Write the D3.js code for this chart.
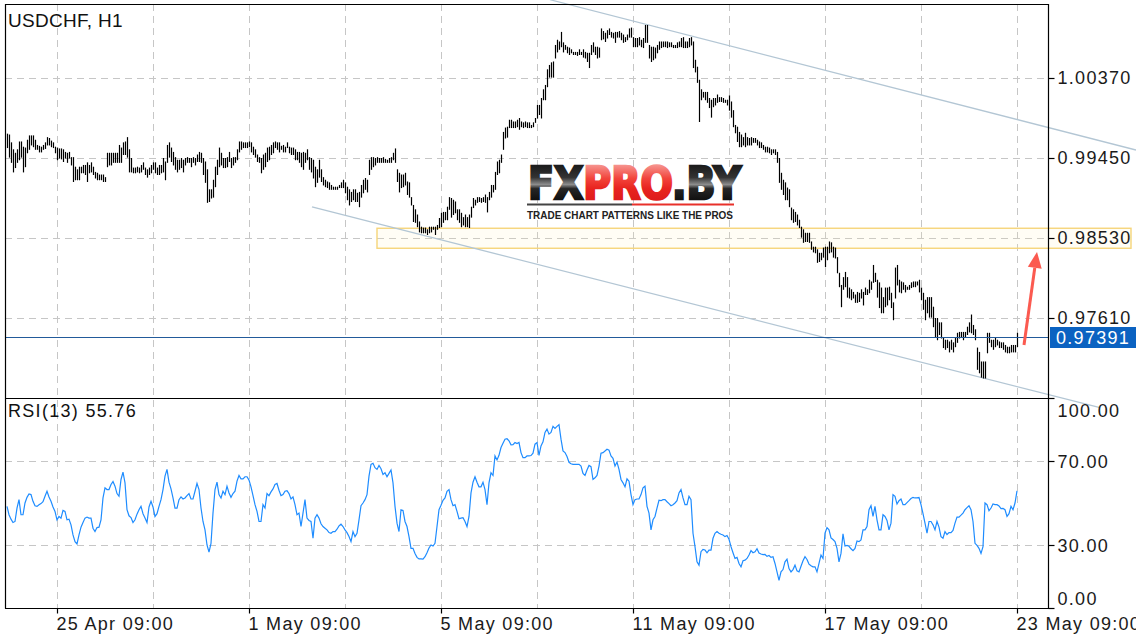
<!DOCTYPE html>
<html><head><meta charset="utf-8">
<script src="https://cdn.jsdelivr.net/npm/d3@7"></script>
<style>
html,body{margin:0;padding:0;background:#fff;}
svg{display:block;}
text{font-family:"Liberation Sans",Arial,sans-serif;}
</style></head><body>
<svg id="c" width="1136" height="640"></svg>
<script>
// ---- DATA (USDCHF H1, bars) ----
const high=[0.9973,0.9972,0.9963,0.9955,0.9951,0.9955,0.9964,0.9964,0.9958,0.9957,
0.9966,0.9971,0.9971,0.9971,0.9966,0.9960,0.9959,0.9958,0.9960,0.9963,
0.9969,0.9968,0.9965,0.9963,0.9958,0.9957,0.9956,0.9956,0.9955,0.9952,
0.9951,0.9952,0.9946,0.9946,0.9935,0.9932,0.9935,0.9935,0.9937,0.9937,
0.9940,0.9937,0.9940,0.9935,0.9929,0.9928,0.9926,0.9926,0.9926,0.9923,
0.9951,0.9951,0.9951,0.9951,0.9951,0.9951,0.9960,0.9957,0.9963,0.9964,
0.9969,0.9955,0.9945,0.9934,0.9934,0.9935,0.9934,0.9937,0.9940,0.9934,
0.9932,0.9934,0.9937,0.9940,0.9940,0.9934,0.9937,0.9937,0.9945,0.9941,
0.9960,0.9963,0.9957,0.9952,0.9946,0.9943,0.9943,0.9945,0.9943,0.9945,
0.9946,0.9945,0.9945,0.9946,0.9945,0.9949,0.9952,0.9951,0.9945,0.9941,
0.9932,0.9909,0.9909,0.9920,0.9935,0.9943,0.9957,0.9951,0.9945,0.9945,
0.9946,0.9952,0.9945,0.9946,0.9946,0.9955,0.9964,0.9964,0.9963,0.9963,
0.9963,0.9964,0.9963,0.9958,0.9955,0.9949,0.9946,
0.9945,0.9949,0.9951,0.9957,0.9958,0.9960,0.9963,0.9964,0.9963,0.9963,
0.9959,0.9960,0.9958,0.9963,0.9958,0.9957,0.9957,0.9955,0.9952,0.9952,
0.9951,0.9952,0.9951,0.9955,0.9946,0.9945,0.9943,0.9935,0.9932,0.9943,
0.9932,0.9923,0.9920,0.9918,0.9917,0.9914,0.9912,0.9912,0.9912,0.9914,
0.9917,0.9920,0.9917,0.9912,0.9909,0.9906,0.9909,0.9909,0.9905,0.9906,
0.9914,0.9920,0.9922,0.9920,0.9943,0.9946,0.9946,0.9945,0.9946,0.9945,
0.9945,0.9946,0.9944,0.9943,0.9945,0.9946,0.9951,0.9956,0.9932,0.9928,
0.9926,0.9926,0.9928,0.9918,0.9917,0.9900,0.9891,0.9886,0.9880,0.9872,
0.9866,0.9865,0.9865,0.9863,0.9866,0.9866,0.9866,0.9866,0.9868,0.9876,
0.9882,0.9883,0.9883,0.9889,0.9900,0.9899,0.9897,0.9895,0.9886,0.9886,
0.9882,0.9877,0.9880,0.9877,0.9880,0.9889,0.9899,0.9897,0.9900,0.9900,
0.9899,0.9900,0.9903,0.9900,0.9906,0.9914,0.9914,0.9929,0.9941,0.9943,
0.9949,0.9975,0.9980,0.9981,0.9989,0.9989,0.9987,0.9987,0.9989,0.9991,
0.9987,0.9986,0.9987,0.9986,0.9986,0.9983,0.9986,0.9991,1.0006,1.0006,
1.0014,1.0024,1.0029,1.0047,1.0052,1.0055,1.0056,1.0075,1.0081,1.0079,
1.0090,1.0078,1.0075,1.0073,1.0072,1.0070,1.0067,1.0067,1.0067,1.0070,
1.0067,1.0070,1.0067,1.0066,1.0066,1.0075,1.0078,1.0073,1.0073,1.0072,
1.0094,1.0091,1.0089,1.0092,1.0094,1.0090,1.0089,1.0090,1.0090,1.0091,
1.0089,1.0087,1.0084,1.0087,1.0094,1.0095,1.0084,1.0083,1.0083,1.0084,
1.0081,1.0083,1.0098,1.0098,1.0075,1.0073,1.0073,1.0072,1.0075,1.0079,
1.0079,1.0079,1.0079,1.0079,1.0078,1.0078,1.0075,1.0075,1.0078,1.0079,
1.0083,1.0084,1.0079,1.0079,1.0083,1.0084,1.0079,1.0058,1.0050,1.0035,
1.0024,1.0021,1.0021,1.0021,1.0014,1.0012,1.0014,1.0014,1.0018,1.0015,
1.0015,1.0014,1.0012,1.0012,1.0017,1.0010,1.0000,0.9983,0.9981,0.9975,
0.9972,0.9969,0.9974,0.9969,0.9968,0.9969,0.9968,0.9968,0.9966,0.9964,
0.9963,0.9960,0.9958,0.9958,0.9957,0.9955,0.9955,0.9955,0.9952,0.9945,
0.9928,0.9920,0.9917,0.9911,0.9909,0.9888,0.9886,0.9883,0.9880,0.9874,
0.9866,0.9863,0.9859,0.9859,0.9859,0.9849,0.9843,0.9843,0.9840,0.9836,
0.9836,0.9842,0.9843,0.9843,0.9849,0.9848,0.9843,0.9842,0.9831,0.9813,
0.9799,0.9808,0.9814,0.9808,0.9796,0.9794,0.9791,0.9788,0.9791,0.9790,
0.9794,0.9791,0.9796,0.9794,0.9805,0.9803,0.9822,0.9813,0.9805,0.9802,
0.9796,0.9785,0.9796,0.9796,0.9797,0.9790,0.9779,0.9819,0.9822,0.9805,
0.9803,0.9802,0.9799,0.9797,0.9799,0.9802,0.9803,0.9803,0.9803,0.9805,
0.9796,0.9790,0.9782,0.9785,0.9785,0.9785,0.9774,0.9761,0.9761,0.9756,
0.9756,0.9739,0.9736,0.9736,0.9734,0.9736,0.9733,0.9738,0.9744,0.9745,
0.9745,0.9745,0.9745,0.9751,0.9756,0.9765,0.9753,0.9748,
0.9727,0.9722,0.9711,0.9711,0.9711,0.9744,0.9744,0.9736,0.9736,0.9738,
0.9736,0.9734,0.9733,0.9733,0.9730,0.9728,0.9728,0.9730,0.9730,0.9730,0.9744];
const low=[0.9957,0.9946,0.9940,0.9929,0.9934,0.9940,0.9943,0.9946,0.9929,0.9935,
0.9951,0.9955,0.9960,0.9958,0.9955,0.9955,0.9952,0.9952,0.9955,0.9956,
0.9960,0.9960,0.9958,0.9957,0.9951,0.9943,0.9945,0.9944,0.9941,0.9945,
0.9940,0.9945,0.9937,0.9918,0.9920,0.9920,0.9920,0.9928,0.9928,0.9926,
0.9918,0.9928,0.9929,0.9926,0.9922,0.9920,0.9920,0.9920,0.9918,0.9918,
0.9935,0.9937,0.9937,0.9940,0.9940,0.9940,0.9940,0.9940,0.9949,0.9949,
0.9946,0.9929,0.9929,0.9928,0.9928,0.9929,0.9928,0.9929,0.9932,0.9926,
0.9923,0.9926,0.9928,0.9932,0.9928,0.9926,0.9926,0.9928,0.9929,0.9920,
0.9940,0.9946,0.9941,0.9937,0.9932,0.9929,0.9932,0.9934,0.9929,0.9937,
0.9940,0.9940,0.9935,0.9940,0.9937,0.9941,0.9941,0.9940,0.9926,0.9917,
0.9894,0.9895,0.9899,0.9900,0.9912,0.9926,0.9935,0.9937,0.9934,0.9934,
0.9935,0.9941,0.9934,0.9937,0.9940,0.9943,0.9952,0.9955,0.9957,0.9957,
0.9957,0.9958,0.9952,0.9949,0.9946,0.9941,0.9940,
0.9928,0.9932,0.9935,0.9941,0.9943,0.9949,0.9951,0.9957,0.9955,0.9952,
0.9955,0.9952,0.9952,0.9957,0.9951,0.9949,0.9949,0.9943,0.9943,0.9940,
0.9935,0.9932,0.9940,0.9943,0.9932,0.9929,0.9922,0.9912,0.9917,0.9923,
0.9918,0.9914,0.9912,0.9911,0.9909,0.9909,0.9909,0.9909,0.9909,0.9911,
0.9911,0.9911,0.9905,0.9897,0.9891,0.9895,0.9897,0.9895,0.9895,0.9889,
0.9900,0.9905,0.9909,0.9906,0.9926,0.9932,0.9935,0.9937,0.9940,0.9940,
0.9940,0.9940,0.9940,0.9940,0.9940,0.9940,0.9943,0.9940,0.9918,0.9906,
0.9911,0.9912,0.9914,0.9903,0.9900,0.9891,0.9872,0.9871,0.9866,0.9860,
0.9859,0.9859,0.9859,0.9857,0.9859,0.9860,0.9863,0.9857,0.9863,0.9865,
0.9866,0.9871,0.9874,0.9874,0.9886,0.9877,0.9880,0.9882,0.9874,0.9871,
0.9866,0.9868,0.9866,0.9866,0.9865,0.9877,0.9888,0.9891,0.9894,0.9895,
0.9894,0.9895,0.9894,0.9883,0.9897,0.9900,0.9906,0.9909,0.9926,0.9928,
0.9940,0.9955,0.9968,0.9969,0.9980,0.9980,0.9980,0.9980,0.9981,0.9978,
0.9981,0.9980,0.9981,0.9980,0.9980,0.9980,0.9981,0.9986,0.9991,0.9995,
0.9991,1.0012,1.0012,1.0027,1.0038,1.0038,1.0038,1.0060,1.0067,1.0070,
1.0073,1.0067,1.0070,1.0066,1.0064,1.0066,1.0064,1.0064,1.0063,1.0064,
1.0064,1.0061,1.0060,1.0056,1.0049,1.0064,1.0067,1.0064,1.0060,1.0061,
1.0081,1.0082,1.0079,1.0083,1.0087,1.0084,1.0083,1.0078,1.0084,1.0084,
1.0081,1.0078,1.0079,1.0081,1.0084,1.0084,1.0073,1.0073,1.0073,1.0075,
1.0073,1.0072,1.0078,1.0078,1.0060,1.0056,1.0058,1.0060,1.0066,1.0070,
1.0072,1.0073,1.0073,1.0072,1.0073,1.0073,1.0072,1.0072,1.0072,1.0073,
1.0073,1.0072,1.0072,1.0072,1.0073,1.0075,1.0049,1.0044,1.0032,0.9987,
1.0012,1.0015,1.0012,1.0009,1.0003,0.9992,1.0004,1.0006,1.0009,1.0010,
1.0010,1.0009,1.0009,1.0006,1.0000,0.9992,0.9981,0.9974,0.9964,0.9958,
0.9958,0.9960,0.9958,0.9960,0.9960,0.9960,0.9963,0.9963,0.9960,0.9957,
0.9957,0.9955,0.9952,0.9952,0.9951,0.9949,0.9951,0.9949,0.9940,0.9917,
0.9909,0.9903,0.9897,0.9897,0.9889,0.9874,0.9871,0.9872,0.9868,0.9865,
0.9854,0.9848,0.9849,0.9849,0.9848,0.9840,0.9837,0.9836,0.9825,0.9826,
0.9828,0.9831,0.9820,0.9828,0.9836,0.9837,0.9831,0.9830,0.9813,0.9797,
0.9774,0.9794,0.9797,0.9785,0.9784,0.9782,0.9784,0.9779,0.9779,0.9780,
0.9784,0.9776,0.9788,0.9788,0.9790,0.9794,0.9802,0.9803,0.9785,0.9773,
0.9767,0.9767,0.9774,0.9776,0.9782,0.9773,0.9759,0.9784,0.9799,0.9791,
0.9790,0.9794,0.9791,0.9794,0.9794,0.9796,0.9797,0.9797,0.9799,0.9791,
0.9782,0.9771,0.9759,0.9767,0.9762,0.9762,0.9751,0.9739,0.9736,0.9742,
0.9738,0.9727,0.9725,0.9727,0.9722,0.9725,0.9722,0.9728,0.9733,0.9738,
0.9739,0.9736,0.9739,0.9742,0.9745,0.9744,0.9742,0.9736,
0.9702,0.9698,0.9693,0.9692,0.9692,0.9721,0.9733,0.9728,0.9725,0.9728,
0.9730,0.9727,0.9727,0.9725,0.9722,0.9721,0.9721,0.9722,0.9722,0.9722,0.9728];
const rsi=[48.4,44.4,42.3,40.7,41.2,47.6,51.6,44.4,44.4,50,
52.7,54.3,54,50.8,48.7,48.4,49.2,49.7,50.6,53.2,
55.6,52.9,50.8,48.1,46,42,43.6,42.8,46.5,46,
42,42.3,39.6,34.8,31.6,30.5,34.8,38.5,40.7,42.8,
43.3,42.8,42.8,38,36.4,38.3,38.5,42,52.4,57.2,
56.4,56.4,58.8,60.2,58,54.5,53.2,61.2,64.7,59.6,
46.8,43.9,43.1,40.7,42,44.7,46.8,48.4,44.9,42.8,
40.7,48.1,50.8,48.1,43.6,44.9,48.4,51.6,56.4,62.8,
66,59.9,56.7,52.4,47.6,47.6,51.6,52.9,51.9,52.4,
53.5,54.5,51.9,51.9,55.6,59.3,56.4,47.6,41.2,37.2,
30,26.6,30.8,45.2,56.4,59.9,54,52.4,55.6,54,
58,54.8,52.7,54.5,55.6,60.4,63.1,61.5,61.5,62.5,
62.5,60.9,57.7,53.5,49.2,46,41.2,41.2,49.2,47.6,
54.5,53.5,55.3,56.7,58.8,59.3,56.1,53.5,54,55.6,
55.9,54.5,51.9,52.9,49.2,44.4,45.2,38.8,45.2,51.6,
42.8,41.7,41.2,33.2,42.8,44.4,42.8,40.1,38.8,38,
37.2,35.9,35.6,36.4,36.4,37.5,39.1,39.9,38.8,37.2,
35.9,34,31.6,36.4,34,35.6,42,48.7,50,51.6,
54,62.8,68.4,68.9,66.8,66,67.9,
66.3,63.6,64.4,62.5,64.1,65.7,59.6,48.4,40.4,36.4,
46.8,46.5,41.2,38.8,34,28.4,28.4,26,24.1,23.4,
23.4,23.3,24.4,26.3,28.6,30,29.5,30.8,38.8,46.8,
48.9,51.3,52.4,55.6,56.4,51.6,48.7,49.2,46,42.5,
42.8,43,41.2,38.8,43.6,54.8,59.9,62.5,59.9,57.7,
57.7,59.9,56.4,49.2,59.6,64.4,63.1,72.4,70.5,72.7,
76.4,78.5,80.4,80.6,79.6,77.7,77.8,78.8,78.3,78.8,
74,71.6,71.6,72.4,72.4,72.6,73.7,78,78.8,72.7,
77.2,79.1,83.6,85.2,82.8,83.6,86.5,85.5,86.5,87.3,
80.4,74.8,74,72.1,69.4,68.7,68.4,68.4,68.4,68.4,
67.6,64.1,63.1,65.7,67.9,67.3,61.2,62,63.1,67.6,
73.7,74,74.8,75.6,75.2,72.4,71.3,67.6,69.5,66,
61.2,59.6,57.7,61.5,60.4,54,49.2,51.6,51.9,51.9,
54,57.2,58,48.4,45.2,37.2,42,43.6,47.6,51.3,
51.1,51.6,51.6,50.6,49.7,48.7,49.2,50,51.1,54.8,
56.4,52.4,49.2,49.2,53.2,51.6,35.6,29.2,22,20.4,
26.8,27.9,27.6,26.3,27.6,27.6,33.2,35.6,36.4,35.6,
35.1,34.8,34,34.5,32.7,29.2,26.3,23.6,24.1,21.2,
19.6,22.5,22.8,23.6,25.2,27.3,26.3,26.8,28.2,26.2,
25.7,25.4,25.5,24.6,25,24.1,24.4,21.2,17.2,13.2,
17.2,18.3,22,23.3,18.8,17.2,18.3,20.4,17.7,17.2,
19.9,22.5,24.4,23.1,20.9,20.1,19.6,19.6,17.2,21.2,
25.2,23.6,35.6,38.3,37.2,33.4,32.6,31.6,28.4,22,
26,35.3,29.5,29.8,29.4,28.2,27.3,28.4,31.9,31.6,
32.4,37.2,37.2,38.8,46.8,48.7,43.6,48.4,42,37.2,
37.2,44.4,43.6,41.7,37.2,40.4,54,53.2,49.5,51.1,
51.9,49.2,49.2,50.2,51.1,52.1,52.7,52.4,52.4,52.6,
49.2,44.9,40.4,35.6,41.2,41.2,39.6,37.2,41.2,38.5,
34,33.2,36.4,35,35.9,35.9,36.9,40.4,43.3,43.3,
44.2,45.2,46.8,47.8,48.7,46.8,41.2,30.8,29.8,28.4,
26,29.2,50,49.2,46.3,47.6,49.5,49.2,49.2,48.6,
47.3,47.4,46.8,43.6,44.9,48.4,46.8,50,55.76];

const priceTicks=[1.00370,0.99450,0.98530,0.97610];
const rsiTicks=[100,70,30,0];
const rsiGrid=[70,30];
const timeLabels=["25 Apr 09:00","1 May 09:00","5 May 09:00","11 May 09:00","17 May 09:00","23 May 09:00"];
const timeTickIdx=[25,121,217,313,409,505];
const gridIdx=[25,73,121,169,217,265,313,361,409,457,505];
const lastPrice=0.97391;
const rsiLast=55.76;
const zone={i0:185,i1:562,pTop:0.98642,pBot:0.98412};
const channelUpper=[[271.5,1.0127],[564.5,0.99542]];
const channelLower=[[152.5,0.98887],[546.5,0.96578]];
const arrowPts=[[508.5,0.9730],[515,0.9837]];

// ---- LAYOUT ----
const L=5,R=1048,T=4,SEP=398,B=608;
const svg=d3.select("#c");
const x=d3.scaleLinear().domain([0,high.length-1]).range([7,1017]);
const yP=d3.scaleLinear().domain([0.97610,1.00370]).range([318,78]);
const yR=d3.scaleLinear().domain([0,100]).range([B,SEP]);

const defs=svg.append("defs");
defs.append("clipPath").attr("id","cm").append("rect").attr("x",L).attr("y",T).attr("width",R-L).attr("height",SEP-T);
defs.append("clipPath").attr("id","cr").append("rect").attr("x",L).attr("y",SEP).attr("width",R-L).attr("height",B-SEP);
const gb=defs.append("linearGradient").attr("id","gBlk").attr("x1",0).attr("y1",0).attr("x2",0).attr("y2",1);
[["0%","#0d0d0d"],["38%","#333"],["52%","#8c8c8c"],["60%","#262626"],["100%","#000"]].forEach(s=>gb.append("stop").attr("offset",s[0]).attr("stop-color",s[1]));
const gr=defs.append("linearGradient").attr("id","gRed").attr("x1",0).attr("y1",0).attr("x2",0).attr("y2",1);
[["0%","#f8bcb8"],["40%","#f2443c"],["60%","#e8241f"],["100%","#d6161a"]].forEach(s=>gr.append("stop").attr("offset",s[0]).attr("stop-color",s[1]));

// grid
const grid=svg.append("g").attr("stroke","#c6c6c6").attr("stroke-dasharray","7,5").attr("stroke-width",1);
gridIdx.forEach(i=>{const xx=Math.round(x(i))+0.5;
  grid.append("line").attr("x1",xx).attr("x2",xx).attr("y1",T).attr("y2",B);});
priceTicks.forEach(p=>{const yy=Math.round(yP(p))+0.5;
  grid.append("line").attr("x1",L).attr("x2",R).attr("y1",yy).attr("y2",yy);});
rsiGrid.forEach(v=>{const yy=Math.round(yR(v))+0.5;
  grid.append("line").attr("x1",L).attr("x2",R).attr("y1",yy).attr("y2",yy);});

// zone rectangle
svg.append("rect").attr("x",x(zone.i0)).attr("y",yP(zone.pTop))
  .attr("width",x(zone.i1)-x(zone.i0)).attr("height",yP(zone.pBot)-yP(zone.pTop))
  .attr("fill","rgba(255,236,170,0.12)").attr("stroke","#f6d57a").attr("stroke-width",1.4);

// channel lines
const chl=d3.line().x(d=>x(d[0])).y(d=>yP(d[1]));
[channelUpper,channelLower].forEach(c=>svg.append("path").attr("d",chl(c))
  .attr("fill","none").attr("stroke","#b3c6d4").attr("stroke-width",1.3));

// bars
const bars=svg.append("g").attr("clip-path","url(#cm)");
bars.selectAll("line").data(high).join("line")
  .attr("x1",(d,i)=>Math.round(x(i))+0.5).attr("x2",(d,i)=>Math.round(x(i))+0.5)
  .attr("y1",d=>yP(d)).attr("y2",(d,i)=>yP(low[i])+0.5)
  .attr("stroke","#000").attr("stroke-width",1.2);

// current price line
const yl=Math.round(yP(lastPrice))+0.5;
svg.append("line").attr("x1",L).attr("x2",R).attr("y1",yl).attr("y2",yl).attr("stroke","#225a9a").attr("stroke-width",1);

// arrow
const [a0,a1]=arrowPts;
const ax0=x(a0[0]),ay0=yP(a0[1]),ax1=x(a1[0]),ay1=yP(a1[1]);
const ang=Math.atan2(ay1-ay0,ax1-ax0);
const hl=16,hw=7;
const bx=ax1-hl*Math.cos(ang),by=ay1-hl*Math.sin(ang);
svg.append("line").attr("x1",ax0).attr("y1",ay0).attr("x2",bx).attr("y2",by)
  .attr("stroke","#fb5a50").attr("stroke-width",3);
svg.append("path").attr("d",`M${ax1},${ay1}L${bx+hw*Math.sin(ang)},${by-hw*Math.cos(ang)}L${bx-hw*Math.sin(ang)},${by+hw*Math.cos(ang)}Z`)
  .attr("fill","#fb5a50");

// RSI line
svg.append("path").attr("clip-path","url(#cr)")
  .attr("d",d3.line().x((d,i)=>x(i)).y(d=>yR(d))(rsi))
  .attr("fill","none").attr("stroke","#1e8cff").attr("stroke-width",1.2);

// logo
const lg=svg.append("g");
const lt=lg.append("text").attr("x",528).attr("y",199).attr("font-size",44).attr("font-weight","bold")
  .attr("style","font-family:'DejaVu Sans',sans-serif")
  .attr("textLength",213).attr("lengthAdjust","spacingAndGlyphs").attr("stroke-width",2.6).attr("stroke-linejoin","miter");
lt.append("tspan").text("FX").attr("fill","url(#gBlk)").attr("stroke","url(#gBlk)");
lt.append("tspan").text("PRO").attr("fill","url(#gRed)").attr("stroke","url(#gRed)");
lt.append("tspan").text(".BY").attr("fill","url(#gBlk)").attr("stroke","url(#gBlk)");
lg.append("rect").attr("x",527).attr("y",203.5).attr("width",105).attr("height",2).attr("fill","#444");
lg.append("rect").attr("x",632).attr("y",203.5).attr("width",102).attr("height",2).attr("fill","#e8302a");
lg.append("text").attr("x",527).attr("y",219).attr("font-size",11).attr("font-weight","bold")
  .attr("fill","#222").attr("textLength",206).attr("lengthAdjust","spacingAndGlyphs")
  .text("TRADE CHART PATTERNS LIKE THE PROS");

// frame
const fr=svg.append("g").attr("stroke","#000").attr("stroke-width",1.2).attr("fill","none");
fr.append("line").attr("x1",L).attr("x2",R).attr("y1",T+0.5).attr("y2",T+0.5);
fr.append("line").attr("x1",L+0.5).attr("x2",L+0.5).attr("y1",T).attr("y2",B+0.5);
fr.append("line").attr("x1",R+0.5).attr("x2",R+0.5).attr("y1",T).attr("y2",B+0.5);
fr.append("line").attr("x1",L).attr("x2",R).attr("y1",SEP+0.5).attr("y2",SEP+0.5);
fr.append("line").attr("x1",L).attr("x2",R+1).attr("y1",B+0.5).attr("y2",B+0.5);

// axes
const fontCss="font-family:'Liberation Sans',Arial,sans-serif;font-size:18px;letter-spacing:1.3px;fill:#1a1a1a";
const pa=svg.append("g").attr("transform",`translate(${R+0.5},0)`)
  .call(d3.axisRight(yP).tickValues(priceTicks).tickFormat(d3.format(".5f")).tickSize(6).tickPadding(3));
const ra=svg.append("g").attr("transform",`translate(${R+0.5},0)`)
  .call(d3.axisRight(yR).tickValues(rsiTicks).tickFormat(d3.format(".2f")).tickSize(6).tickPadding(3));
const ta=svg.append("g").attr("transform",`translate(0,${B+0.5})`)
  .call(d3.axisBottom(x).tickValues(timeTickIdx).tickFormat((d,i)=>timeLabels[i]).tickSize(5).tickPadding(4));
[pa,ra,ta].forEach(g=>{g.select(".domain").remove();
  g.selectAll(".tick line").attr("stroke","#000").attr("stroke-width",1.2);
  g.selectAll(".tick text").attr("style",fontCss);});
ta.selectAll(".tick text").attr("text-anchor","start").attr("dx",-1);
ra.selectAll(".tick text").attr("dy",d=>d===100?"1.05em":d===0?"-0.2em":"0.35em");

// current price label
svg.append("rect").attr("x",1050).attr("y",327).attr("width",86).attr("height",21).attr("fill","#0b62c1");
svg.append("text").attr("x",1056).attr("y",344).attr("style",fontCss.replace("fill:#1a1a1a","fill:#fff"))
  .text(d3.format(".5f")(lastPrice));

// titles
svg.append("text").attr("x",8).attr("y",27).attr("style","font-family:'Liberation Sans',Arial,sans-serif;font-size:19px;fill:#111;letter-spacing:0.3px").text("USDCHF, H1");
svg.append("text").attr("x",8).attr("y",417).attr("style","font-family:'Liberation Sans',Arial,sans-serif;font-size:18px;fill:#111;letter-spacing:1.3px")
  .text("RSI(13) "+d3.format(".2f")(rsiLast));
</script>
</body></html>
